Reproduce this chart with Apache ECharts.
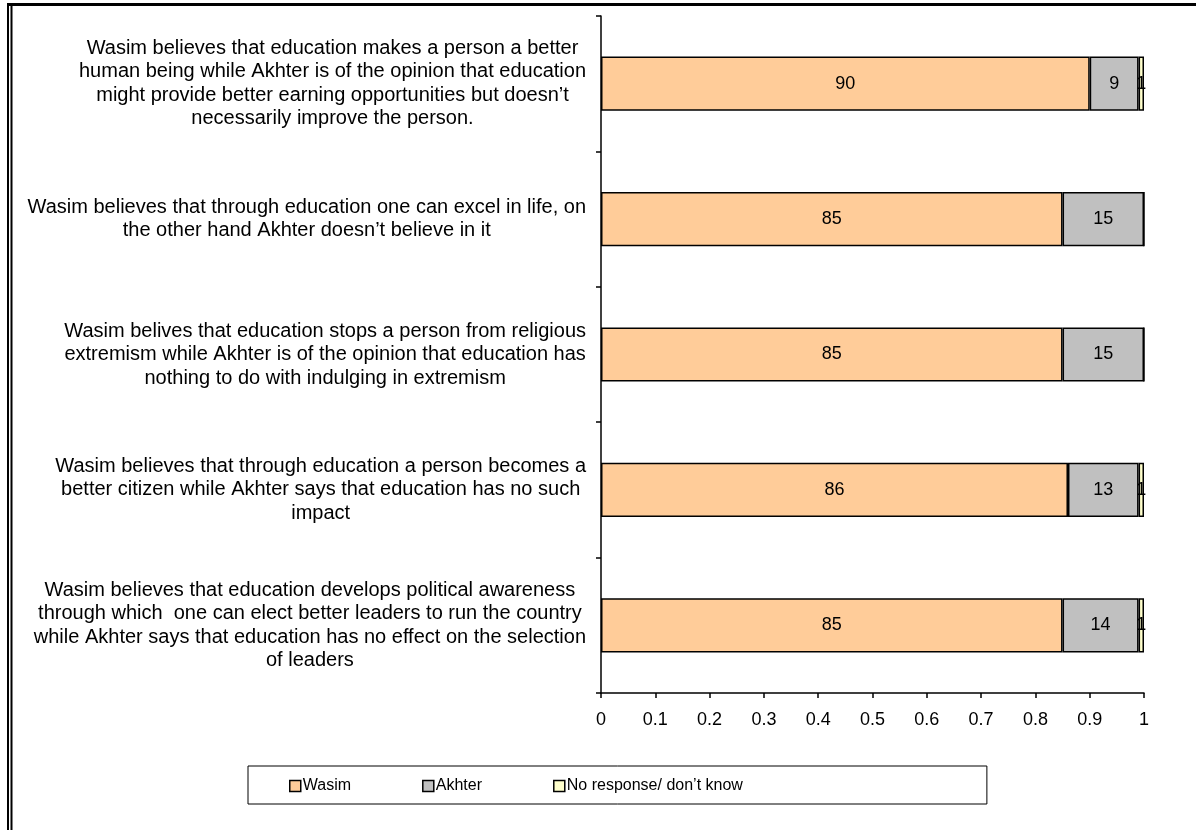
<!DOCTYPE html>
<html><head><meta charset="utf-8">
<script src="https://cdn.jsdelivr.net/npm/echarts@6/dist/echarts.min.js"></script>
<style>html,body{margin:0;padding:0;background:#fff}#c{width:1196px;height:830px}</style>
</head><body><div id="c"></div>
<script>
// categories, bottom to top (ECharts category axis order)
const categories = [
  "Wasim believes that education develops political awareness\nthrough which  one can elect better leaders to run the country\nwhile Akhter says that education has no effect on the selection\nof leaders",
  "Wasim believes that through education a person becomes a\nbetter citizen while Akhter says that education has no such\nimpact",
  "Wasim belives that education stops a person from religious\nextremism while Akhter is of the opinion that education has\nnothing to do with indulging in extremism",
  "Wasim believes that through education one can excel in life, on\nthe other hand Akhter doesn\u2019t believe in it",
  "Wasim believes that education makes a person a better\nhuman being while Akhter is of the opinion that education\nmight provide better earning opportunities but doesn\u2019t\nnecessarily improve the person."
];
const wasim = [0.85, 0.86, 0.85, 0.85, 0.90];
const akhter = [0.14, 0.13, 0.15, 0.15, 0.09];
const noResponse = [0.01, 0.01, 0, 0, 0.01];
const seriesNames = ["Wasim", "Akhter", "No response/ don\u2019t know"];
const xTicks = {min: 0, max: 1, interval: 0.1};

const FONT = "'Liberation Sans', Arial, sans-serif";
const chart = echarts.init(document.getElementById('c'), null, {renderer: 'canvas'});

function mkSeries(name, data, color) {
  return {
    name: name, type: 'bar', stack: 'total', data: data, barWidth: '40%',
    itemStyle: {color: color, borderColor: '#000', borderWidth: 1.5},
    label: {
      show: true, position: 'inside', color: '#000', fontFamily: FONT, fontSize: 18,
      formatter: p => p.value > 0 ? String(Math.round(p.value * 100)) : ''
    },
    emphasis: {disabled: true}
  };
}

chart.setOption({
  animation: false,
  backgroundColor: '#fff',
  textStyle: {fontFamily: FONT},
  grid: {left: 601, right: 52, top: 16, bottom: 137, containLabel: false},
  xAxis: {
    type: 'value', min: xTicks.min, max: xTicks.max, interval: xTicks.interval,
    axisLine: {show: true, lineStyle: {color: '#000', width: 1.5}},
    axisTick: {show: true, length: 5, lineStyle: {color: '#000', width: 1.5}},
    axisLabel: {color: '#000', fontSize: 18, fontFamily: FONT, margin: 18},
    splitLine: {show: false}
  },
  yAxis: {
    type: 'category', data: categories,
    axisLine: {show: true, lineStyle: {color: '#000', width: 1.5}},
    axisTick: {show: true, length: 5, alignWithLabel: false, lineStyle: {color: '#000', width: 1.5}},
    axisLabel: {
      margin: 15, color: '#000', interval: 0,
      formatter: v => v.split('\n').map(l => '{c|' + l + '}').join('\n'),
      rich: {c: {align: 'center', fontSize: 20, lineHeight: 23.5, fontFamily: FONT, color: '#000'}}
    }
  },
  legend: {
    left: 248, top: 766,
    padding: [10, 244, 8, 41],
    borderColor: '#000', borderWidth: 1,
    itemWidth: 11, itemHeight: 11, itemGap: 71,
    icon: 'rect',
    textStyle: {fontSize: 16, fontFamily: FONT, color: '#000', padding: [0, 0, 0, -3], lineHeight: 20},
    itemStyle: {borderColor: '#000', borderWidth: 1.5},
    data: seriesNames
  },
  graphic: [
    {type: 'line', shape: {x1: 7, y1: 4.5, x2: 1196, y2: 4.5}, style: {stroke: '#000', lineWidth: 3}, silent: true},
    {type: 'line', shape: {x1: 8, y1: 3, x2: 8, y2: 830}, style: {stroke: '#000', lineWidth: 2}, silent: true},
    {type: 'line', shape: {x1: 11.5, y1: 6, x2: 11.5, y2: 830}, style: {stroke: '#000', lineWidth: 2}, silent: true}
  ],
  series: [
    mkSeries(seriesNames[0], wasim, '#FFCC99'),
    mkSeries(seriesNames[1], akhter, '#C0C0C0'),
    mkSeries(seriesNames[2], noResponse, '#FFFFCC')
  ]
});
</script></body></html>
